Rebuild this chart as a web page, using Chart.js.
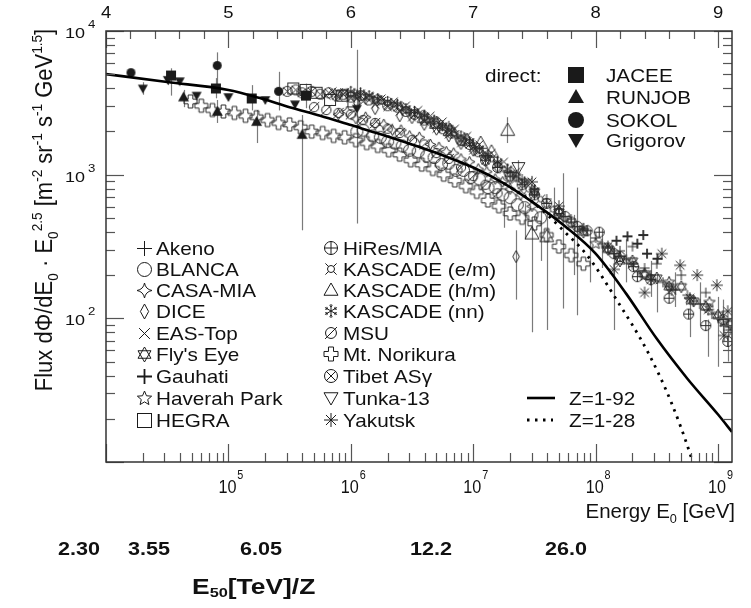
<!DOCTYPE html>
<html>
<head>
<meta charset="utf-8">
<title>All-particle cosmic ray flux</title>
<script src="https://cdn.jsdelivr.net/npm/chart.js@4.4.1/dist/chart.umd.min.js"></script>
<style>
  body { margin: 0; background: #fff; }
  #wrap { position: relative; width: 751px; height: 608px; font-family: "Liberation Sans", Arial, sans-serif; color: #111; }
  #wrap canvas { position: absolute; left: 0; top: 0; }
  .e50 { position: absolute; font-weight: bold; font-size: 18px; line-height: 1; white-space: nowrap; transform-origin: left top; transform: scaleX(1.2); }
  .e50 sub { font-size: 0.62em; vertical-align: -0.25em; }
</style>
</head>
<body>
<div id="wrap">
  <canvas id="fluxChart" width="751" height="608"></canvas>
</div>
<script>
// axis ticks
const energyTicks = [1e5, 1e6, 1e7, 1e8, 1e9];
const fluxTicks = [1e2, 1e3, 1e4];
const topTicks = [4, 5, 6, 7, 8, 9];
const e50Labels = ['2.30', '3.55', '6.05', '12.2', '26.0'];

// model curves (E in GeV, flux * E^2.5)
const curveE = [1e4, 3.16e4, 1e5, 1.78e5, 3.16e5, 5.62e5, 1e6, 1.78e6, 3.16e6, 5.62e6, 1e7, 1.78e7, 3.16e7, 5.62e7, 1e8, 1.78e8, 3.16e8, 5.62e8, 1e9, 1.3e9];
const curveAll = [5012, 4416, 3890, 3428, 2951, 2570, 2213, 1905, 1622, 1365, 1122, 871, 631, 437, 282, 148, 72, 38, 21.4, 16.2];
const curveLightE = [1.78e7, 3.16e7, 5.62e7, 8.51e7, 1.48e8, 2.69e8, 4.17e8, 5.89e8, 6.6e8];
const curveLight = [871, 631, 398, 275, 135, 57.5, 25.7, 11.5, 8.3];

// direct measurements
const jaceeE = [3.4e4, 7.9e4, 1.55e5, 4.3e5];
const jaceeF = [4900, 3980, 3390, 3550];
const runjobE = [4.3e4, 8.1e4, 1.7e5, 4e5];
const runjobF = [3470, 2750, 2340, 1900];
const sokolE = [1.6e4, 8.1e4, 2.57e5];
const sokolF = [5130, 5750, 3800];
const grigorovE = [2e4, 3.2e4, 4e4, 5.5e4, 1e5, 2e5, 3.5e5, 1.12e6];
const grigorovF = [3980, 4570, 4470, 3550, 3470, 3310, 3090, 2880];

// air shower experiments
const akenoE = [3.98e6, 6.31e6, 1e7, 1.58e7, 2.51e7, 3.98e7, 6.31e7, 1e8, 1.58e8, 2e8, 2.51e8, 3.16e8, 3.98e8, 5.01e8, 6.31e8, 7.94e8, 1e9, 1.26e9,
  1.12e8, 1.41e8, 1.78e8, 2.24e8, 2.82e8, 3.55e8, 4.47e8, 5.62e8, 7.08e8, 8.91e8, 1.12e9,
  1.26e7, 2e7, 3.16e7, 5.01e7, 7.94e7];
const akenoF = [2630, 2190, 1660, 1230, 933, 676, 490, 363, 295, 316, 224, 240, 166, 200, 132, 151, 100, 83,
  331, 282, 257, 214, 200, 178, 158, 145, 126, 107, 89,
  1349, 1047, 794, 575, 427];
const blancaE = [1.12e6, 1.51e6, 2e6, 2.63e6, 3.55e6, 4.79e6, 6.31e6, 8.32e6, 1.12e7, 1.51e7, 2e7, 2.63e7, 3.55e7,
  1.26e6, 1.74e6, 2.29e6, 3.02e6, 4.17e6, 5.5e6, 7.24e6, 9.55e6, 1.32e7, 1.74e7, 2.29e7, 3.02e7];
const blancaF = [1995, 1862, 1698, 1585, 1445, 1318, 1202, 1072, 933, 813, 692, 589, 501,
  2042, 1820, 1660, 1479, 1349, 1175, 1072, 955, 813, 724, 617, 525];
const casaE = [7.94e5, 1.1e6, 1.58e6, 2.19e6, 3.02e6, 4.47e6, 6.03e6, 7.94e6, 1.1e7, 1.51e7, 2e7, 3.02e7,
  9.33e5, 1.32e6, 1.86e6, 2.57e6, 3.63e6, 5.25e6, 6.92e6, 9.33e6, 1.29e7, 1.74e7, 2.45e7];
const casaF = [2630, 2455, 2239, 2042, 1862, 1622, 1445, 1288, 1096, 933, 794, 603,
  2754, 2512, 2239, 2042, 1820, 1549, 1413, 1230, 1047, 891, 724];
const diceE = [1.12e6, 1.58e6, 2.51e6, 3.98e6, 6.31e6, 1e7, 1.58e7, 2.24e7];
const diceF = [3162, 2884, 2570, 2239, 1862, 1479, 1122, 269];
const eastopE = [6.31e5, 7.94e5, 1e6, 1.26e6, 1.58e6, 2e6, 2.51e6, 3.16e6, 3.98e6, 5.01e6, 6.31e6, 7.94e6, 1e7, 1.26e7,
  7.08e5, 8.91e5, 1.12e6, 1.41e6, 1.78e6, 2.24e6, 2.82e6, 3.55e6, 4.47e6, 5.62e6, 7.08e6, 8.91e6, 1.12e7, 1.41e7, 1.78e7, 2.24e7, 2.82e7];
const eastopF = [3548, 3467, 3388, 3236, 3090, 2951, 2754, 2512, 2344, 2089, 1905, 1660, 1479, 1259,
  3802, 3715, 3631, 3548, 3388, 3236, 3020, 2818, 2570, 2344, 2089, 1862, 1622, 1413, 1230, 1047, 891];
const flysE = [3.16e7, 5.01e7, 7.94e7, 1.26e8, 2e8, 3.16e8, 5.01e8, 7.94e8, 1.26e9, 1.58e8, 2.51e8, 3.98e8, 6.31e8, 1e9];
const flysF = [759, 550, 398, 302, 251, 191, 166, 120, 91, 251, 204, 166, 132, 105];
const gauhatiE = [1.48e8, 1.82e8, 2.19e8, 2.45e8, 2.63e8, 3.2e8];
const gauhatiF = [347, 372, 331, 380, 282, 260];
const haverahE = [1e8, 1.58e8, 2.51e8, 3.98e8, 5.89e8, 8.51e8, 1.12e9];
const haverahF = [331, 263, 200, 178, 135, 129, 95];
const hegraE = [3.39e5, 4.27e5, 5.25e5, 6.76e5, 8.51e5, 1.05e6];
const hegraF = [3981, 3890, 3715, 3311, 3548, 3236];
const hiresE = [1.26e7, 2e7, 3.16e7, 5.01e7, 7.08e7, 8.51e7, 1.07e8, 1.41e8, 2.04e8, 2.19e8, 2.82e8, 5.75e8, 7.94e8, 1.1e9,
  3.98e7, 6.31e7, 1.26e8, 1.58e8, 3.98e8, 1.2e9, 1.58e7, 2.51e7, 5.62e7];
const hiresF = [1259, 977, 724, 537, 437, 407, 398, 282, 229, 195, 186, 107, 89, 98,
  631, 468, 309, 269, 138, 69, 1122, 851, 513];
const kascEmE = [7.94e5, 1e6, 1.26e6, 1.58e6, 2e6, 2.51e6, 3.16e6, 3.98e6, 5.01e6, 6.31e6, 7.94e6, 1e7, 1.26e7, 1.58e7, 2e7, 2.51e7, 3.16e7, 3.98e7, 5.01e7, 6.31e7,
  8.91e5, 1.12e6, 1.41e6, 1.78e6, 2.24e6, 2.82e6, 3.55e6, 4.47e6, 5.62e6, 7.08e6, 8.91e6, 1.12e7, 1.41e7, 1.78e7, 2.24e7, 2.82e7, 3.55e7, 4.47e7, 5.62e7, 7.08e7];
const kascEmF = [3715, 3631, 3467, 3311, 3162, 2951, 2692, 2455, 2239, 1995, 1778, 1549, 1349, 1175, 1000, 851, 724, 617, 513, 447,
  3715, 3548, 3467, 3236, 3090, 2818, 2630, 2399, 2138, 1905, 1698, 1479, 1288, 1096, 933, 794, 676, 575, 490, 417];
const kascHmE = [3.98e6, 5.01e6, 6.46e6, 8.91e6, 1.15e7, 1.41e7, 1.91e7, 3.02e7, 3.98e7];
const kascHmF = [2512, 2291, 2042, 1738, 1660, 1445, 2042, 389, 372];
const kascNnE = [1e6, 1.41e6, 2e6, 2.82e6, 3.98e6, 5.62e6, 7.94e6, 1.12e7, 1.58e7, 2.24e7, 3.16e7,
  1.2e6, 1.66e6, 2.4e6, 3.31e6, 4.79e6, 6.61e6, 9.33e6, 1.32e7, 1.91e7, 2.63e7];
const kascNnF = [3802, 3548, 3236, 2884, 2570, 2188, 1862, 1514, 1230, 977, 776,
  3715, 3388, 3090, 2754, 2399, 2042, 1698, 1380, 1096, 891];
const msuE = [1e6, 1.58e6, 2.51e6, 3.98e6, 6.31e6, 1e7, 1.58e7, 5.01e5, 6.31e5, 7.94e5, 1.26e6, 2e6, 3.16e6, 5.01e6, 7.94e6, 1.26e7];
const msuF = [2630, 2291, 1950, 1622, 1288, 977, 741, 2951, 2818, 2692, 2399, 2089, 1738, 1413, 1122, 851];
const norikuraE = [4.9e4, 6.0e4, 7.4e4, 9.1e4, 1.12e5, 1.38e5, 1.7e5, 2.09e5, 2.57e5, 3.16e5, 3.89e5, 4.79e5, 5.89e5, 7.24e5, 8.91e5, 1.1e6, 1.35e6, 1.66e6, 2.04e6, 2.51e6, 3.09e6, 3.8e6, 4.68e6, 5.75e6, 7.08e6, 8.71e6, 1.07e7, 1.32e7, 1.62e7, 2.0e7, 2.51e7, 3.16e7, 3.98e7, 5.01e7, 6.31e7, 7.94e7];
const norikuraF = [3236, 3020, 2818, 2754, 2692, 2570, 2512, 2399, 2291, 2239, 2138, 1995, 1950, 1862, 1820, 1738, 1660, 1585, 1479, 1380, 1259, 1175, 1096, 1000, 912, 832, 759, 661, 603, 537, 501, 457, 380, 316, 275, 240];
const tibetE = [3.02e5, 3.98e5, 5.62e5, 7.59e5, 1e6, 1.41e6, 2e6, 2.82e6, 3.98e6, 5.62e6, 7.94e6, 1.1e7,
  3.55e5, 4.79e5, 6.61e5, 8.71e5, 1.2e6, 1.66e6, 2.4e6, 3.31e6, 4.79e6, 6.61e6, 9.33e6];
const tibetF = [3802, 3715, 3631, 3548, 3467, 3311, 3020, 2754, 2399, 2089, 1738, 1445,
  3890, 3802, 3715, 3631, 3548, 3311, 2951, 2630, 2291, 1950, 1622];
const tunkaE = [3.16e6, 5.01e6, 7.94e6, 1.26e7, 2e7, 2.34e7];
const tunkaF = [2512, 2089, 1660, 1259, 955, 1122];
const yakutskE = [3.02e7, 5.01e7, 7.94e7, 1.26e8, 2e8, 2.51e8, 3.47e8, 4.9e8, 6.76e8, 9.77e8, 1.2e9,
  1.41e8, 2.82e8, 4.17e8, 5.89e8, 8.32e8, 1.12e9];
const yakutskF = [891, 603, 417, 316, 240, 151, 282, 234, 200, 170, 112,
  219, 186, 158, 138, 115, 76];

// error bars: energy, lower and upper flux
const errE = [3.4e4, 7.9e4, 1.55e5, 4.3e5, 4.3e4, 8.1e4, 1.7e5, 4e5, 8.1e4, 2.57e5, 1.12e6, 2.24e7, 1.9e7, 3e7, 2.34e7, 1.78e7, 3.98e7, 4.57e7, 5.37e7, 7.08e7, 1.41e8, 3.16e8, 5.89e8, 8.32e8, 1e9, 1.1e9, 2e4, 3.2e4,
  2.63e7, 3.55e7, 6.61e7, 8.91e7, 1.12e8, 1.78e8, 2.82e8, 4.47e8, 7.08e8, 1.2e9];
const errLo = [3550, 3400, 2800, 2900, 2950, 2290, 1660, 410, 4100, 2800, 457, 135, 1660, 80, 910, 427, 83, 513, 117, 105, 83, 110, 74, 54, 46, 74, 3600, 4200,
  355, 251, 200, 178, 224, 178, 141, 120, 89, 50];
const errHi = [5500, 4700, 4200, 4300, 3890, 3310, 2820, 2600, 7100, 5200, 7400, 410, 2510, 480, 1260, 661, 537, 813, 1023, 813, 316, 204, 126, 98, 141, 135, 4400, 5000,
  631, 562, 525, 417, 417, 355, 251, 209, 178, 100];

const FAM = '"Liberation Sans", Arial, Helvetica, sans-serif';
const INK = '#1a1a1a';
const DATA_INK = '#2a2a2a';

// bottom annotation (html text)
const e50Left = [58, 128, 240, 410, 545];
const wrap = document.getElementById('wrap');
e50Labels.forEach((t, i) => {
  const d = document.createElement('div');
  d.className = 'e50';
  d.style.left = e50Left[i] + 'px';
  d.style.top = '540px';
  d.textContent = t;
  wrap.appendChild(d);
});
const e50Title = document.createElement('div');
e50Title.className = 'e50';
e50Title.style.left = '192px';
e50Title.style.top = '576px';
e50Title.style.fontSize = '22px';
e50Title.innerHTML = 'E<sub>50</sub>[TeV]/Z';
wrap.appendChild(e50Title);

// ---- marker shapes
function drawShape(g, kind, r) {
  const poly = pts => { g.beginPath(); pts.forEach(([a, b], i) => i ? g.lineTo(a, b) : g.moveTo(a, b)); g.closePath(); };
  const seg = (a, b, c, d) => { g.moveTo(a, b); g.lineTo(c, d); };
  const circ = rr => { g.beginPath(); g.arc(0, 0, rr, 0, 2 * Math.PI); };
  const q = r * 0.72;
  switch (kind) {
    case 'sqF': g.fillRect(-r, -r, 2 * r, 2 * r); break;
    case 'sqO': g.strokeRect(-r + 0.5, -r + 0.5, 2 * r - 1, 2 * r - 1); break;
    case 'cirF': circ(r); g.fill(); break;
    case 'cirO': circ(r - 0.5); g.stroke(); break;
    case 'triF': poly([[0, -r], [r, r * 0.75], [-r, r * 0.75]]); g.fill(); break;
    case 'triO': poly([[0, -r], [r, r * 0.75], [-r, r * 0.75]]); g.stroke(); break;
    case 'triDF': poly([[0, r], [r, -r * 0.75], [-r, -r * 0.75]]); g.fill(); break;
    case 'triDO': poly([[0, r], [r, -r * 0.75], [-r, -r * 0.75]]); g.stroke(); break;
    case 'plus': g.beginPath(); seg(-r, 0, r, 0); seg(0, -r, 0, r); g.stroke(); break;
    case 'cross': g.beginPath(); seg(-q, -q, q, q); seg(-q, q, q, -q); g.stroke(); break;
    case 'ast': g.beginPath(); seg(-r, 0, r, 0); seg(0, -r, 0, r); seg(-q, -q, q, q); seg(-q, q, q, -q); g.stroke(); break;
    case 'diam': poly([[0, -r], [r * 0.55, 0], [0, r], [-r * 0.55, 0]]); g.stroke(); break;
    case 'spark':
      g.beginPath(); g.moveTo(0, -r);
      g.quadraticCurveTo(r * 0.15, -r * 0.15, r, 0);
      g.quadraticCurveTo(r * 0.15, r * 0.15, 0, r);
      g.quadraticCurveTo(-r * 0.15, r * 0.15, -r, 0);
      g.quadraticCurveTo(-r * 0.15, -r * 0.15, 0, -r);
      g.stroke(); break;
    case 'hexa': {
      const tri = a0 => poly([0, 1, 2].map(k => [r * Math.cos(a0 + k * 2 * Math.PI / 3), r * Math.sin(a0 + k * 2 * Math.PI / 3)]));
      tri(-Math.PI / 2); g.stroke(); tri(Math.PI / 2); g.stroke(); break;
    }
    case 'star5': {
      const pts = [];
      for (let k = 0; k < 10; k++) {
        const rr = k % 2 ? r * 0.45 : r, a = -Math.PI / 2 + k * Math.PI / 5;
        pts.push([rr * Math.cos(a), rr * Math.sin(a)]);
      }
      poly(pts); g.stroke(); break;
    }
    case 'oplus': circ(r - 0.5); g.stroke(); g.beginPath(); seg(-r, 0, r, 0); seg(0, -r, 0, r); g.stroke(); break;
    case 'otimes': circ(r - 0.5); g.stroke(); g.beginPath(); seg(-q, -q, q, q); seg(-q, q, q, -q); g.stroke(); break;
    case 'empty': circ(r * 0.78); g.stroke(); g.beginPath(); seg(-r * 0.85, r * 0.85, r * 0.85, -r * 0.85); g.stroke(); break;
    case 'curr': {
      circ(r * 0.5); g.stroke(); g.beginPath();
      const a = r * 0.35, b = r * 0.8;
      seg(a, a, b, b); seg(-a, a, -b, b); seg(a, -a, b, -b); seg(-a, -a, -b, -b); g.stroke(); break;
    }
    case 'snow': {
      g.beginPath();
      for (let k = 0; k < 6; k++) {
        const a = Math.PI / 2 + k * Math.PI / 3, c = Math.cos(a), s = Math.sin(a);
        seg(0, 0, r * c, r * s);
        const m = 0.6 * r, t = 0.3 * r;
        seg(m * c, m * s, m * c + t * Math.cos(a + 0.8), m * s + t * Math.sin(a + 0.8));
        seg(m * c, m * s, m * c + t * Math.cos(a - 0.8), m * s + t * Math.sin(a - 0.8));
      }
      g.stroke(); break;
    }
    case 'plusO': {
      const a = r * 0.36;
      poly([[-a, -r], [a, -r], [a, -a], [r, -a], [r, a], [a, a], [a, r], [-a, r], [-a, a], [-r, a], [-r, -a], [-a, -a]]);
      g.stroke(); break;
    }
    case 'gau':
      g.lineWidth = 1.8; g.beginPath(); seg(-r, 0, r, 0); seg(0, -r, 0, r); g.stroke();
      g.lineWidth = 1; break;
  }
}
function makeSym(kind, r, ink) {
  const s = Math.ceil(2 * r + 4);
  const c = document.createElement('canvas');
  c.width = s; c.height = s;
  const g = c.getContext('2d');
  g.translate(s / 2, s / 2);
  g.strokeStyle = ink || INK; g.fillStyle = ink || INK; g.lineWidth = 1;
  drawShape(g, kind, r);
  return c;
}

// name, energies, fluxes, marker, marker radius
const series = [
  ['JACEE', jaceeE, jaceeF, 'sqF', 5],
  ['RUNJOB', runjobE, runjobF, 'triF', 5.5],
  ['SOKOL', sokolE, sokolF, 'cirF', 4.5],
  ['Grigorov', grigorovE, grigorovF, 'triDF', 5],
  ['Akeno', akenoE, akenoF, 'plus', 5],
  ['BLANCA', blancaE, blancaF, 'cirO', 6.5],
  ['CASA-MIA', casaE, casaF, 'spark', 5.5],
  ['DICE', diceE, diceF, 'diam', 6],
  ['EAS-Top', eastopE, eastopF, 'cross', 5.5],
  ["Fly's Eye", flysE, flysF, 'hexa', 6],
  ['Gauhati', gauhatiE, gauhatiF, 'gau', 5],
  ['Haverah Park', haverahE, haverahF, 'star5', 6],
  ['HEGRA', hegraE, hegraF, 'sqO', 6],
  ['HiRes/MIA', hiresE, hiresF, 'oplus', 5.5],
  ['KASCADE (e/m)', kascEmE, kascEmF, 'curr', 5.5],
  ['KASCADE (h/m)', kascHmE, kascHmF, 'triO', 7],
  ['KASCADE (nn)', kascNnE, kascNnF, 'snow', 5.5],
  ['MSU', msuE, msuF, 'empty', 6],
  ['Mt. Norikura', norikuraE, norikuraF, 'plusO', 6.5],
  ['Tibet ASγ', tibetE, tibetF, 'otimes', 5.5],
  ['Tunka-13', tunkaE, tunkaF, 'triDO', 6.5],
  ['Yakutsk', yakutskE, yakutskF, 'ast', 6]
];
const symbolOf = {};
series.forEach(s => { symbolOf[s[0]] = s[3]; });

const pts = (xs, ys) => xs.map((x, i) => ({ x, y: ys[i] }));

const datasets = [
  { label: 'Z=1-92', data: pts(curveE, curveAll), showLine: true, borderColor: '#000', borderWidth: 2.6,
    pointRadius: 0, cubicInterpolationMode: 'monotone', fill: false },
  { label: 'Z=1-28', data: pts(curveLightE, curveLight), showLine: true, borderColor: '#000', borderWidth: 2.8,
    borderDash: [2.5, 5.5], pointRadius: 0, cubicInterpolationMode: 'monotone', fill: false }
].concat(series.map(([name, e, f, kind, r], i) => ({
  label: name, data: pts(e, f), showLine: false,
  pointStyle: makeSym(kind, r, i < 4 ? INK : DATA_INK), pointRadius: r
})));

// ---- rich text helper: parts = [text, 0 normal | 1 sup | -1 sub]
function richWidth(ctx, parts, size, w) {
  let t = 0;
  for (const [s, k] of parts) { ctx.font = (w || '') + ' ' + (k ? size * 0.62 : size) + 'px ' + FAM; t += ctx.measureText(s).width; }
  return t;
}
function richDraw(ctx, parts, x, y, size, w) {
  for (const [s, k] of parts) {
    const fs = k ? size * 0.62 : size;
    ctx.font = (w || '') + ' ' + fs + 'px ' + FAM;
    ctx.fillText(s, x, y + (k === 1 ? -size * 0.42 : k === -1 ? size * 0.24 : 0));
    x += ctx.measureText(s).width;
  }
}

const errorBars = {
  id: 'errorBars',
  beforeDatasetsDraw(chart) {
    const { ctx, chartArea: a, scales: { x, y } } = chart;
    ctx.save();
    ctx.beginPath(); ctx.rect(a.left, a.top, a.right - a.left, a.bottom - a.top); ctx.clip();
    ctx.strokeStyle = '#7a7a7a'; ctx.lineWidth = 1.2;
    errE.forEach((e, i) => {
      const px = Math.round(x.getPixelForValue(e)) + 0.5;
      ctx.beginPath();
      ctx.moveTo(px, y.getPixelForValue(errLo[i]));
      ctx.lineTo(px, y.getPixelForValue(errHi[i]));
      ctx.stroke();
    });
    ctx.restore();
  }
};

const frameAndText = {
  id: 'frameAndText',
  afterDraw(chart) {
    const { ctx, chartArea: a, scales: { x, y } } = chart;
    const line = (x1, y1, x2, y2) => { ctx.beginPath(); ctx.moveTo(x1, y1); ctx.lineTo(x2, y2); ctx.stroke(); };
    ctx.save();
    // inward ticks
    ctx.strokeStyle = '#555'; ctx.lineWidth = 1.2;
    for (let d = 1; d <= 4; d++) for (let m = 1; m <= 9; m++) {
      const v = m * Math.pow(10, d);
      if (v < y.min || v > y.max) continue;
      const py = Math.round(y.getPixelForValue(v)) + 0.5, len = m === 1 ? 18 : 9;
      line(a.left, py, a.left + len, py); line(a.right, py, a.right - len, py);
    }
    for (let d = 4; d <= 9; d++) for (let m = 1; m <= 9; m++) {
      const v = m * Math.pow(10, d);
      if (v < x.min || v > x.max) continue;
      const px = Math.round(x.getPixelForValue(v)) + 0.5, len = m === 1 ? 18 : 9;
      line(px, a.bottom, px, a.bottom - len);
    }
    for (let k = 20; k <= 46; k++) {
      const px = Math.round(x.getPixelForValue(Math.pow(10, k / 5))) + 0.5;
      if (px > a.right) break;
      line(px, a.top, px, a.top + (k % 5 === 0 ? 17 : 8));
    }
    ctx.strokeStyle = '#333'; ctx.lineWidth = 1.5;
    ctx.strokeRect(a.left, a.top, a.right - a.left, a.bottom - a.top);

    ctx.fillStyle = '#111';
    // top axis labels (log10 E)
    ctx.textAlign = 'center'; ctx.font = '16px ' + FAM;
    topTicks.forEach(t => {
      const px = x.getPixelForValue(Math.pow(10, t));
      ctx.save(); ctx.translate(px, 18); ctx.scale(1.15, 1); ctx.fillText(String(t), 0, 0); ctx.restore();
    });
    ctx.textAlign = 'left';
    // left axis labels
    fluxTicks.forEach(v => {
      const py = y.getPixelForValue(v);
      const ex = String(Math.round(Math.log10(v)));
      ctx.save(); ctx.translate(85, py + 7); ctx.scale(1.2, 1);
      ctx.font = '15px ' + FAM; ctx.textAlign = 'right'; ctx.fillText('10', 0, 0);
      ctx.textAlign = 'left'; ctx.font = '11px ' + FAM; ctx.fillText(ex, 2.5, -10);
      ctx.restore();
    });
    // bottom axis labels
    energyTicks.forEach(v => {
      const px = x.getPixelForValue(v);
      const ex = String(Math.round(Math.log10(v)));
      ctx.save(); ctx.translate(px - 10, 493); ctx.scale(0.9, 1);
      ctx.font = '18px ' + FAM; ctx.fillText('10', 0, 0);
      ctx.font = '12px ' + FAM; ctx.fillText(ex, 21, -14);
      ctx.restore();
    });
    // energy axis title
    const eParts = [['Energy E', 0], ['0', -1], [' [GeV]', 0]];
    ctx.save(); ctx.translate(735, 518);
    richDraw(ctx, eParts, -richWidth(ctx, eParts, 20.5), 0, 20.5);
    ctx.restore();
    // flux axis title
    const fParts = [['Flux dΦ/dE', 0], ['0', -1], [' · E', 0], ['0', -1], ['2.5', 1], [' [m', 0], ['-2', 1], [' sr', 0], ['-1', 1],
      [' s', 0], ['-1', 1], [' GeV', 0], ['1.5', 1], [']', 0]];
    ctx.save(); ctx.translate(52, 210); ctx.rotate(-Math.PI / 2); ctx.scale(1, 1.1);
    richDraw(ctx, fParts, -richWidth(ctx, fParts, 22) / 2, 0, 22);
    ctx.restore();

    // in-plot legends
    const textAt = (s, tx, ty) => { ctx.save(); ctx.translate(tx, ty); ctx.scale(1.09, 1); ctx.fillText(s, 0, 0); ctx.restore(); };
    const symAt = (kind, r, cx, cy) => { const c = makeSym(kind, r); ctx.drawImage(c, Math.round(cx - c.width / 2), Math.round(cy - c.height / 2)); };
    ctx.font = '19px ' + FAM; ctx.textAlign = 'left';
    textAt('direct:', 485, 82);
    const directNames = ['JACEE', 'RUNJOB', 'SOKOL', 'Grigorov'];
    const directRows = [82, 104, 127, 147];
    directNames.forEach((n, i) => {
      symAt(symbolOf[n], 8, 576, directRows[i] - 7.5);
      ctx.font = '19px ' + FAM; textAt(n, 606, directRows[i]);
    });
    const leftNames = ['Akeno', 'BLANCA', 'CASA-MIA', 'DICE', 'EAS-Top', "Fly's Eye", 'Gauhati', 'Haverah Park', 'HEGRA'];
    const rightNames = ['HiRes/MIA', 'KASCADE (e/m)', 'KASCADE (h/m)', 'KASCADE (nn)', 'MSU', 'Mt. Norikura', 'Tibet ASγ', 'Tunka-13', 'Yakutsk'];
    const rows = [255, 276, 297, 318, 340, 361, 383, 405, 427];
    rows.forEach((ry, i) => {
      symAt(symbolOf[leftNames[i]], 7.5, 144, ry - 7);
      symAt(symbolOf[rightNames[i]], 7, 331, ry - 7);
      ctx.font = '19px ' + FAM;
      textAt(leftNames[i], 156, ry);
      textAt(rightNames[i], 343, ry);
    });
    ctx.strokeStyle = '#000'; ctx.lineWidth = 2.6;
    line(527, 398, 555, 398);
    ctx.setLineDash([2.5, 5.5]); ctx.lineWidth = 2.8;
    line(527, 420, 553, 420);
    ctx.setLineDash([]);
    ctx.font = '19px ' + FAM;
    textAt('Z=1-92', 569, 405);
    textAt('Z=1-28', 569, 427);
    ctx.restore();
  }
};

new Chart(document.getElementById('fluxChart'), {
  type: 'scatter',
  data: { datasets },
  options: {
    responsive: false,
    animation: false,
    events: [],
    layout: { padding: { left: 106, right: 19, top: 31, bottom: 146 } },
    plugins: { legend: { display: false }, tooltip: { enabled: false } },
    scales: {
      x: { type: 'logarithmic', min: 1e4, max: 1.3e9, display: false },
      y: { type: 'logarithmic', min: 10, max: 1e4, display: false }
    }
  },
  plugins: [errorBars, frameAndText]
});
</script>
</body>
</html>
